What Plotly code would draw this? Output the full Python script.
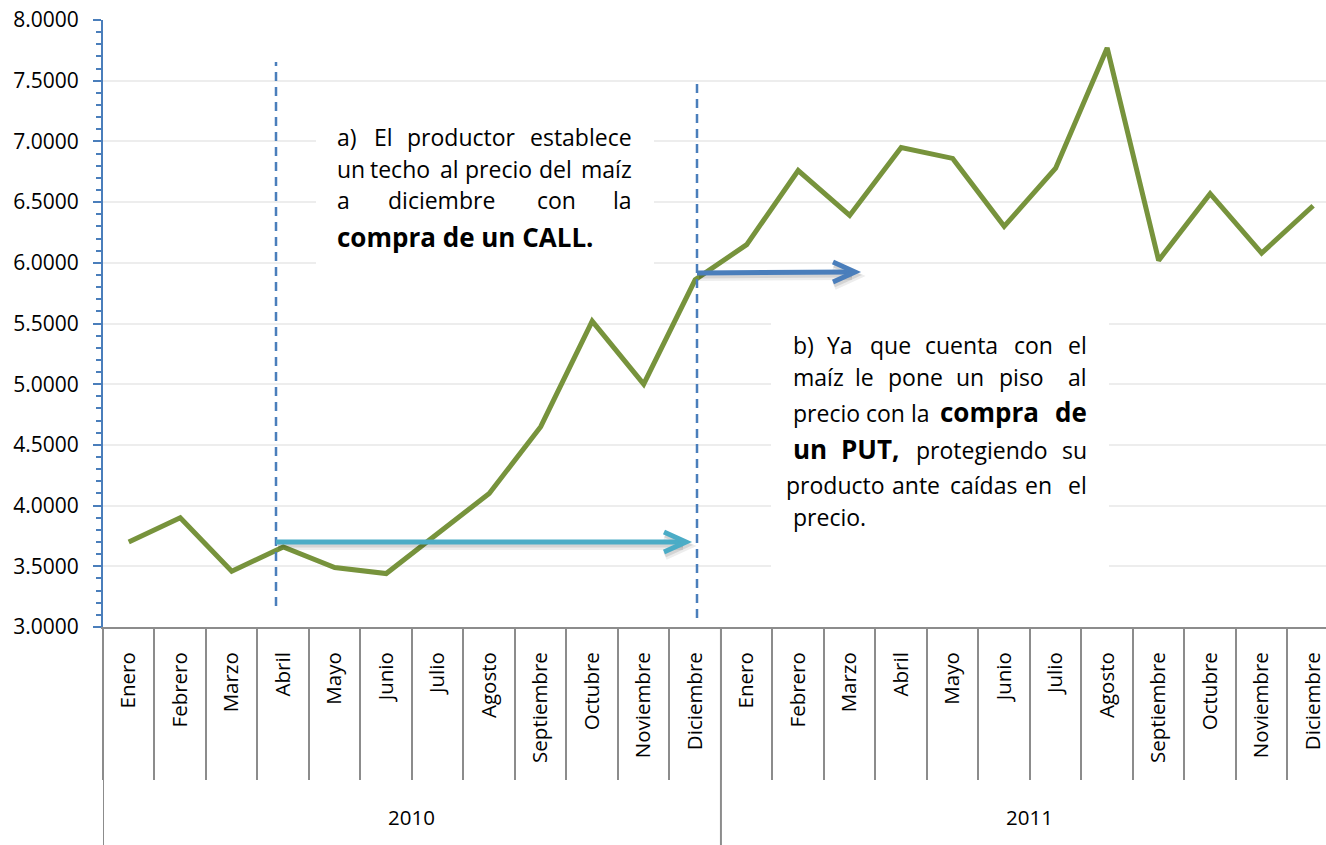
import plotly.graph_objects as go

# ---------------- data ----------------
years = ["2010", "2011"]
months = ["Enero", "Febrero", "Marzo", "Abril", "Mayo", "Junio", "Julio",
          "Agosto", "Septiembre", "Octubre", "Noviembre", "Diciembre"]
prices_2010 = [3.70, 3.90, 3.46, 3.66, 3.49, 3.44, 3.77, 4.10, 4.65, 5.52, 5.00, 5.86]
prices_2011 = [6.15, 6.76, 6.39, 6.95, 6.86, 6.30, 6.78, 7.77, 6.02, 6.57, 6.08, 6.47]
y_ticks = [3.0, 3.5, 4.0, 4.5, 5.0, 5.5, 6.0, 6.5, 7.0, 7.5, 8.0]

prices = prices_2010 + prices_2011
labels = months + months
idx = list(range(len(prices)))

# ---------------- geometry ----------------
# page body margin is removed (post_script), so the figure fills the window
W, H = 1326, 845
ML, MT = 103, 20
PW, PH = 1326 - 103, 627 - 20
MB = H - MT - PH
XR = [-0.5, 23.25]
YR = [3.0, 8.0]

# helpers: positions measured in picture pixels -> paper / data units
def px(xp):
    return (xp - 103) / PW

def py(yp):
    return (627 - yp) / PH

def dx(xp):
    return XR[0] + (xp - 103) / PW * (XR[1] - XR[0])

def dy(yp):
    return YR[0] + (627 - yp) / PH * (YR[1] - YR[0])

FONT = "Open Sans"
GREEN = "#77933C"
BLUE = "#4A7EBB"
CYAN = "#4BACC6"
GRAY = "#8C8C8C"
NORMAL = 23
BOLD = 26

fig = go.Figure()
fig.add_trace(go.Scatter(x=idx, y=prices, mode="lines",
                         line=dict(color=GREEN, width=5), hoverinfo="skip",
                         showlegend=False))

shapes = []
# white text boxes (cover gridlines, below traces)
shapes.append(dict(type="rect", xref="x", yref="y", x0=dx(316), x1=dx(654),
                   y0=dy(290), y1=dy(98), fillcolor="white", line=dict(width=0),
                   layer="between"))
shapes.append(dict(type="rect", xref="x", yref="y", x0=dx(771), x1=dx(1109),
                   y0=dy(600), y1=dy(300), fillcolor="white", line=dict(width=0),
                   layer="between"))

# year dividers below axis
for b in [-0.5, 11.5, 23.5]:
    shapes.append(dict(type="line", xref="x", yref="paper", x0=b, x1=b,
                       y0=0, y1=-MB / PH, line=dict(color=GRAY, width=2),
                       layer="above"))

# dashed vertical lines
shapes.append(dict(type="line", xref="x", yref="y", x0=dx(276), x1=dx(276),
                   y0=dy(606), y1=dy(62),
                   line=dict(color=BLUE, width=2.5, dash="9px,6px"), layer="above"))
shapes.append(dict(type="line", xref="x", yref="y", x0=dx(697), x1=dx(697),
                   y0=dy(618), y1=dy(78),
                   line=dict(color=BLUE, width=2.5, dash="9px,6px"), layer="above"))


def arrow(x0p, y0p, x1p, y1p, color):
    # soft shadow
    for off, alpha, wd in [(4, 0.07, 8), (3, 0.10, 5)]:
        shapes.append(dict(type="line", xref="x", yref="y", x0=dx(x0p + 2), x1=dx(x1p - 3),
                           y0=dy(y0p + off), y1=dy(y1p + off),
                           line=dict(color="rgba(0,0,0,%s)" % alpha, width=wd),
                           layer="above"))
        shapes.append(dict(type="path", xref="x", yref="y", xsizemode="pixel",
                           ysizemode="pixel", xanchor=dx(x1p + 1), yanchor=dy(y1p + off),
                           path="M -22 10 L 0 0 L -22 -10",
                           line=dict(color="rgba(0,0,0,%s)" % alpha, width=wd),
                           layer="above"))
    # shaft
    shapes.append(dict(type="line", xref="x", yref="y", x0=dx(x0p), x1=dx(x1p - 3),
                       y0=dy(y0p), y1=dy(y1p), line=dict(color=color, width=5),
                       layer="above"))
    # chevron head
    shapes.append(dict(type="path", xref="x", yref="y", xsizemode="pixel",
                       ysizemode="pixel", xanchor=dx(x1p), yanchor=dy(y1p),
                       path="M -22 10 L 0 0 L -22 -10",
                       line=dict(color=color, width=5), layer="above"))


arrow(276, 542, 686, 542, CYAN)
arrow(697, 273, 855, 272, BLUE)

annotations = []
for yi, yl in enumerate(years):
    annotations.append(dict(text=yl, x=yi * 12 + 5.5, xref="x", y=py(817), yref="paper",
                            showarrow=False, font=dict(family=FONT, size=20.5, color="black"),
                            xanchor="center", yanchor="middle"))


def word(t, xp, yp, anchor, bold=False):
    size = BOLD if bold else NORMAL
    txt = "<b>%s</b>" % t if bold else t
    annotations.append(dict(text=txt, x=px(xp), y=py(yp), xref="paper", yref="paper",
                            showarrow=False, xanchor=anchor, yanchor="middle",
                            font=dict(family=FONT, size=size, color="black"),
                            borderpad=0))


# box a
for t, xp, a in [("a)", 336, "left"), ("El", 383, "center"), ("productor", 461, "center"),
                 ("establece", 633, "right")]:
    word(t, xp, 137, a)
for t, xp, a in [("un", 336, "left"), ("techo", 400, "center"), ("al", 449, "center"),
                 ("precio", 498, "center"), ("del", 555, "center"), ("maíz", 633, "right")]:
    word(t, xp, 169, a)
for t, xp, a in [("a", 336, "left"), ("diciembre", 441, "center"), ("con", 556, "center"),
                 ("la", 633, "right")]:
    word(t, xp, 200, a)
word("compra de un CALL.", 336, 237, "left", bold=True)

# box b
for t, xp, a in [("b)", 792, "left"), ("Ya", 840, "center"), ("que", 890, "center"),
                 ("cuenta", 961, "center"), ("con", 1033, "center"), ("el", 1088, "right")]:
    word(t, xp, 345, a)
for t, xp, a in [("maíz", 792, "left"), ("le", 864, "center"), ("pone", 915, "center"),
                 ("un", 970, "center"), ("piso", 1021, "center"), ("al", 1088, "right")]:
    word(t, xp, 377, a)
word("precio con la", 792, 413, "left")
word("compra", 989, 412, "center", bold=True)
word("de", 1088, 412, "right", bold=True)
word("un", 792, 449, "left", bold=True)
word("PUT,", 870, 449, "center", bold=True)
word("protegiendo", 982, 450, "center")
word("su", 1088, 450, "right")
for t, xp, a in [("producto", 835, "center"), ("ante", 916, "center"), ("caídas", 983, "center"),
                 ("en", 1038, "center"), ("el", 1088, "right")]:
    word(t, xp, 485, a)
word("precio.", 792, 517, "left")

fig.update_layout(
    template="none",
    width=W, height=H,
    margin=dict(l=ML, r=0, t=MT, b=MB, pad=0),
    paper_bgcolor="white", plot_bgcolor="white",
    showlegend=False,
    font=dict(family=FONT, size=20, color="black"),
    xaxis=dict(range=XR, tickmode="array", tickvals=idx, ticktext=labels,
               tickangle=-90, ticks="", showgrid=False, zeroline=False,
               showline=True, linecolor=GRAY, linewidth=2,
               tickfont=dict(family=FONT, size=20.5, color="black"),
               ticklabelstandoff=15, ticklabeloverflow="allow", automargin=False,
               minor=dict(tickmode="linear", tick0=-0.5, dtick=1, ticks="outside",
                          ticklen=151, tickcolor=GRAY, tickwidth=2, showgrid=False)),
    yaxis=dict(range=YR, tickmode="array", tickvals=y_ticks, tickformat=".4f",
               showgrid=True, gridcolor="#EDEDED", gridwidth=2, zeroline=False,
               showline=True, linecolor=BLUE, linewidth=2,
               ticks="outside", ticklen=8, tickcolor=BLUE, tickwidth=2,
               tickfont=dict(family=FONT, size=21, color="black"),
               ticklabelstandoff=10, ticklabeloverflow="allow", automargin=False,
               minor=dict(tickmode="linear", tick0=3.0, dtick=0.1, ticks="outside",
                          ticklen=5, tickcolor=BLUE, tickwidth=2, showgrid=False)),
    shapes=shapes,
    annotations=annotations,
)

fig.write_html("out.html",
               config={"displayModeBar": False},
               post_script="document.body.style.margin='0px';"
                           "document.body.style.overflow='hidden';")
